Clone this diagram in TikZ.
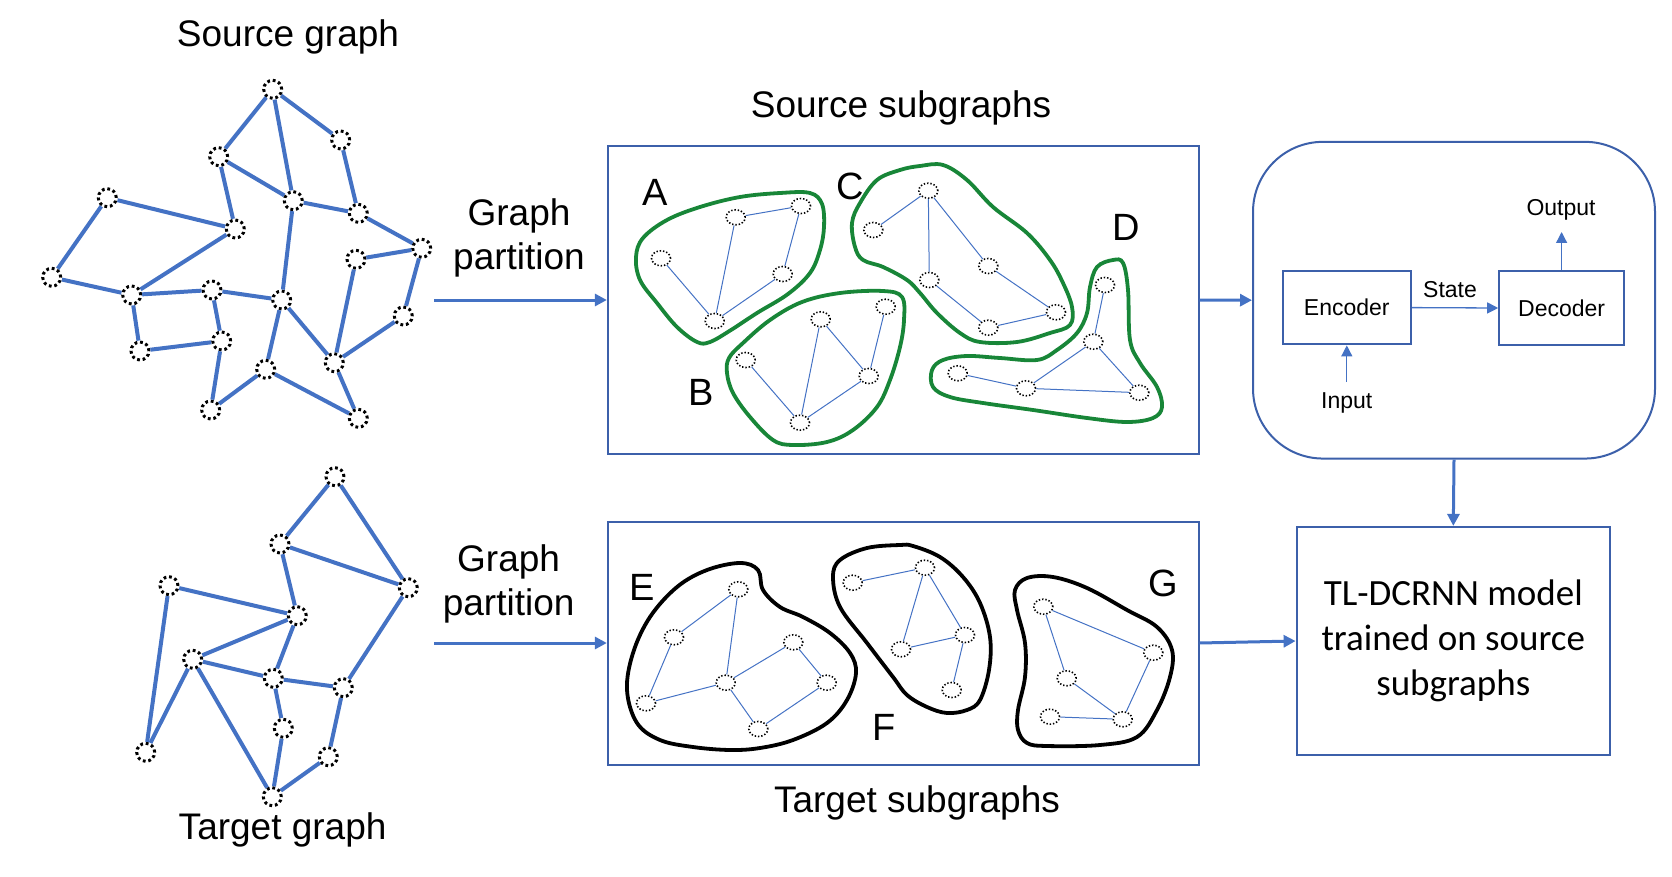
\documentclass[tikz,border=0pt]{standalone}
\usepackage{fontspec}
\setmainfont{Liberation Sans}
\newfontfamily\calfont{Carlito}
\usetikzlibrary{arrows.meta,shapes.geometric}
\definecolor{eblue}{RGB}{68,114,196}
\definecolor{bblue}{RGB}{60,96,170}
\definecolor{sgreen}{RGB}{24,134,56}
\begin{document}
\begin{tikzpicture}[x=1pt,y=-1pt,
  bnode/.style={circle,draw=black,line width=3pt,dash pattern=on 2.8pt off 2.8pt,minimum size=18pt,inner sep=0pt},
  bedge/.style={draw=eblue,line width=4pt},
  snode/.style={ellipse,draw=black,line width=1.6pt,dash pattern=on 1.4pt off 1.9pt,minimum width=19pt,minimum height=15pt,inner sep=0pt},
  sedge/.style={draw=eblue,line width=1pt},
  gblob/.style={draw=sgreen,line width=3.8pt},
  kblob/.style={draw=black,line width=3.8pt},
  bigtxt/.style={font=\fontsize{37}{44}\selectfont,align=center},
  lettxt/.style={font=\fontsize{38}{44}\selectfont},
  smtxt/.style={font=\fontsize{23}{28}\selectfont},
  bbox/.style={draw=bblue,line width=2pt,inner sep=0pt},
  barrow/.style={draw=eblue,line width=3pt,-{Triangle[length=12pt,width=12pt]}},
  sarrow/.style={draw=eblue,line width=1.3pt,-{Triangle[length=11pt,width=11pt]}}
]
\useasboundingbox (0,0) rectangle (1672,877);

% ---------- texts ----------
\node[bigtxt] (tsg) at (288,37) {Source graph};
\node[bigtxt] (ttg) at (282.6,829.6) {Target graph};
\node[bigtxt] (tss) at (901,107.7) {Source subgraphs};
\node[bigtxt] (tts) at (917,803) {Target subgraphs};
\node[bigtxt] (gp1) at (519,238) {Graph\\partition};
\node[bigtxt] (gp2) at (508.6,584) {Graph\\partition};

% ---------- source graph ----------
\foreach \n/\x/\y in {1/272.7/89.3,2/340.7/140,3/218.7/156.7,4/293.3/200.7,5/358.3/213.3,
  6/107.3/197.7,7/235.3/229,8/421.7/248.3,9/356/259.3,10/51.7/277.3,11/131.7/295,
  12/212/290,13/281.7/300,14/403.3/316,15/140/351,16/221.7/341,17/334.3/362.7,
  18/265.7/369.3,19/210.7/410,20/358.3/418.3}
  \node[bnode] (s\n) at (\x,\y) {};
\foreach \a/\b in {1/3,1/4,1/2,2/5,3/4,3/7,4/5,4/13,5/8,8/9,8/14,9/17,14/17,6/7,6/10,
  10/11,7/11,11/12,11/15,12/13,12/16,15/16,16/19,19/18,18/13,13/17,18/20,17/20}
  \draw[bedge] (s\a) -- (s\b);

% ---------- target graph ----------
\foreach \n/\x/\y in {1/335/476.7,2/280/544,3/408.3/587.7,4/169/585.7,5/297.3/615.7,
  6/192.7/659.3,7/273.3/678.3,8/343.3/687.7,9/283.3/728.3,10/145.7/752.3,
  11/328.3/756.7,12/272.3/796.7}
  \node[bnode] (t\n) at (\x,\y) {};
\foreach \a/\b in {1/2,1/3,2/3,2/5,4/5,4/10,5/6,5/7,6/10,6/7,6/12,7/8,3/8,7/9,9/12,8/11,11/12}
  \draw[bedge] (t\a) -- (t\b);

% ---------- boxes ----------
\node[bbox,minimum width=590.7pt,minimum height=308pt] (srcbox) at (903.2,300) {};
\node[bbox,minimum width=590.7pt,minimum height=243pt] (tgtbox) at (903.2,643) {};
\node[bbox,rounded corners=70pt,minimum width=402pt,minimum height=316.7pt] (rbox) at (1454,300.2) {};
\node[bbox,minimum width=313.4pt,minimum height=228.2pt,font=\calfont\fontsize{37}{45}\selectfont,align=center] (tlbox) at (1453.3,641) {TL-DCRNN model\\trained on source\\subgraphs};

% ---------- blobs ----------
\draw[gblob] plot[smooth cycle,tension=0.6] coordinates {(643,238) (667,220) (700,207) (740,197) (780,193) (810,193) (822,204) (824,227) (820,250) (810,273) (788,294) (757,313) (731,330) (710,342) (697,342) (677,327) (657,303) (640,280) (636,257)};
\draw[gblob] plot[smooth cycle,tension=0.6] coordinates {(729,358) (743,343) (770,320) (802,302) (840,293) (883,291) (902,297) (904,320) (900,347) (890,380) (877,407) (853,430) (827,442) (793,445) (773,440) (750,417) (733,393) (727,373)};
\draw[gblob] plot[smooth cycle,tension=0.6] coordinates {(900,170) (920,166) (943,165) (967,180) (993,207) (1027,233) (1050,260) (1063,283) (1072,307) (1070,325) (1050,333) (1017,342) (980,342) (960,333) (937,313) (920,293) (907,280) (883,267) (863,260) (855,247) (852,223) (860,203) (877,180)};
\draw[gblob] plot[smooth cycle,tension=0.6] coordinates {(932,370) (943,360) (967,356) (1000,358) (1037,360) (1057,350) (1077,333) (1087,313) (1090,287) (1097,267) (1113,260) (1123,263) (1128,290) (1130,340) (1140,363) (1157,387) (1162,407) (1153,418) (1127,422) (1087,418) (1033,410) (983,403) (950,397) (933,387)};
\draw[kblob] plot[smooth cycle,tension=0.6] coordinates {(627,690) (633,653) (650,617) (677,587) (707,570) (740,563) (758,570) (763,590) (780,607) (803,617) (830,633) (850,653) (856,673) (847,700) (827,723) (793,740) (760,748) (730,750) (693,747) (660,740) (637,723)};
\draw[kblob] plot[smooth cycle,tension=0.6] coordinates {(833,577) (840,560) (867,548) (900,545) (913,546) (940,557) (963,577) (980,603) (990,637) (989,670) (980,700) (967,710) (947,713) (927,707) (907,695) (893,677) (867,643) (840,607)};
\draw[kblob] plot[smooth cycle,tension=0.6] coordinates {(1015,590) (1027,578) (1053,577) (1087,588) (1127,610) (1157,627) (1172,650) (1170,677) (1157,710) (1137,737) (1100,745) (1047,746) (1027,743) (1018,730) (1018,710) (1025,677) (1025,643) (1017,610)};

% ---------- subgraph nodes ----------
\foreach \n/\x/\y in {a1/661/258.3,a2/735.7/217.3,a3/801/206,a4/782.7/274,a5/714.7/321,
  b1/745.7/360,b2/820.7/319.3,b3/885.7/306.7,b4/868.7/376,b5/800/422.7,
  c1/873.3/230,c2/928.3/190.7,c3/929.3/280,c4/988.3/266,c5/988.3/327.7,c6/1056/312.3,
  d1/1105/285,d2/1093.3/341.7,d3/957.7/373.3,d4/1026/388.3,d5/1139.3/392.7,
  e1/738.3/589.3,e2/674/637.3,e3/793.3/642.3,e4/725.7/682.7,e5/826.7/682.7,e6/646/703.3,e7/758.3/729,
  f1/852.7/582.7,f2/925/567.7,f3/901/649.3,f4/965/635,f5/951.7/690,
  g1/1043.3/606.7,g2/1153.3/652.7,g3/1066.7/678.3,g4/1050/716.7,g5/1122.7/719.3}
  \node[snode] (\n) at (\x,\y) {};
\foreach \a/\b in {a1/a5,a2/a5,a2/a3,a3/a4,a4/a5,
  b1/b5,b2/b5,b2/b4,b3/b4,b4/b5,
  c1/c2,c2/c3,c2/c4,c3/c5,c4/c6,c5/c6,
  d1/d2,d2/d4,d2/d5,d3/d4,d4/d5,
  e1/e2,e1/e4,e2/e6,e6/e4,e4/e3,e3/e5,e4/e7,e7/e5,
  f1/f2,f2/f3,f2/f4,f3/f4,f4/f5,
  g1/g2,g1/g3,g3/g5,g2/g5,g4/g5}
  \draw[sedge] (\a) -- (\b);

% ---------- letters ----------
\node[lettxt] (lA) at (654.7,192) {A};
\node[lettxt] (lB) at (701.6,392.4) {B};
\node[lettxt] (lC) at (849.9,186.6) {C};
\node[lettxt] (lD) at (1126,227) {D};
\node[lettxt] (lE) at (641.9,587.5) {E};
\node[lettxt] (lF) at (884,727) {F};
\node[lettxt] (lG) at (1163,583) {G};

% ---------- encoder/decoder ----------
\node[bbox,minimum width=128pt,minimum height=73.6pt,smtxt] (enc) at (1346.8,307.6) {Encoder};
\node[bbox,minimum width=124.8pt,minimum height=74.7pt,smtxt] (dec) at (1561.6,308) {Decoder};
\draw[sarrow] (enc.east) -- (dec.west);
\node[smtxt] (state) at (1450,290) {State};
\coordinate (outtip) at (1561.6,232);
\draw[sarrow] (dec.north) -- (outtip);
\node[smtxt] (outt) at (1561,210) {Output};
\coordinate (inbase) at (1346.8,382);
\draw[sarrow] (inbase) -- (enc.south);
\node[smtxt] (inpt) at (1346.7,403) {Input};

% ---------- arrows ----------
\coordinate (pa1) at (434,300);
\coordinate (pa2) at (434,643);
\draw[barrow] (pa1) -- (srcbox.west);
\draw[barrow] (pa2) -- (tgtbox.west);
\draw[barrow] (srcbox.east) -- (rbox.west);
\draw[barrow] (tgtbox.east) -- (tlbox.west);
\draw[barrow] (rbox.south) -- (tlbox.north);
\end{tikzpicture}
\end{document}
